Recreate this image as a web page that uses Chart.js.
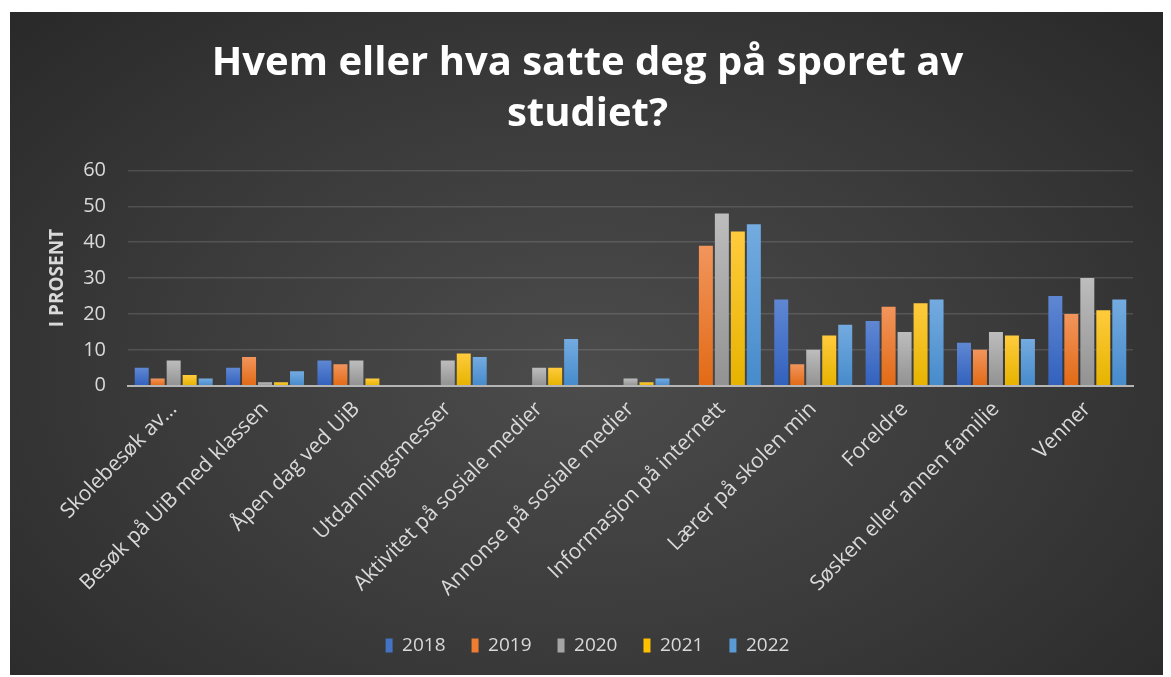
<!DOCTYPE html>
<html>
<head>
<meta charset="utf-8">
<script src="https://cdn.jsdelivr.net/npm/chart.js@4/dist/chart.umd.min.js"></script>
<style>
  html, body { margin: 0; padding: 0; background: #fff; }
  #wrap {
    position: absolute; left: 10px; top: 12px; width: 1153px; height: 663px;
    background: radial-gradient(ellipse 75% 85% at 50% 55%, #4c4c4c 0%, #3a3a3a 50%, #262626 100%);
  }
</style>
</head>
<body>
<div id="wrap"><canvas id="chart" width="1153" height="663"></canvas></div>
<script>
// Survey answers, percent per year
const categories = [
  'Skolebesøk av…', 'Besøk på UiB med klassen', 'Åpen dag ved UiB', 'Utdanningsmesser',
  'Aktivitet på sosiale medier', 'Annonse på sosiale medier', 'Informasjon på internett',
  'Lærer på skolen min', 'Foreldre', 'Søsken eller annen familie', 'Venner'
];
const years = ['2018', '2019', '2020', '2021', '2022'];
const values2018 = [5, 5, 7, 0, 0, 0, 0, 24, 18, 12, 25];
const values2019 = [2, 8, 6, 0, 0, 0, 39, 6, 22, 10, 20];
const values2020 = [7, 1, 7, 7, 5, 2, 48, 10, 15, 15, 30];
const values2021 = [3, 1, 2, 9, 5, 1, 43, 14, 23, 14, 21];
const values2022 = [2, 4, 0, 8, 13, 2, 45, 17, 24, 13, 24];
const yTicks = [0, 10, 20, 30, 40, 50, 60];

const seriesValues = [values2018, values2019, values2020, values2021, values2022];
const baseColors = ['#4472c4', '#ed7d31', '#a5a5a5', '#ffc000', '#5b9bd5'];
const topColors = ['#5f87d3', '#f2955c', '#bdbdbd', '#ffcb3d', '#74abe0'];
const bottomColors = ['#3261bd', '#e26a15', '#929292', '#e6b300', '#468bcb'];

function barGradient(i) {
  return function(ctx) {
    const chart = ctx.chart;
    const y = chart.scales && chart.scales.y;
    if (!chart.chartArea || !y || !ctx.raw) return baseColors[i];
    const top = y.getPixelForValue(ctx.raw);
    const bottom = y.getPixelForValue(0);
    const g = chart.ctx.createLinearGradient(0, top, 0, bottom);
    g.addColorStop(0, topColors[i]);
    g.addColorStop(1, bottomColors[i]);
    return g;
  };
}

const textColor = '#d9d9d9';
const font = 'Open Sans';

new Chart(document.getElementById('chart'), {
  type: 'bar',
  data: {
    labels: categories,
    datasets: years.map((yr, i) => ({
      label: yr,
      data: seriesValues[i],
      backgroundColor: barGradient(i),
      categoryPercentage: 0.875,
      barPercentage: 0.875
    }))
  },
  options: {
    responsive: false,
    animation: false,
    layout: { padding: { left: 32, right: 30, top: 0, bottom: 10 } },
    plugins: {
      title: {
        display: true,
        text: ['Hvem eller hva satte deg på sporet av', 'studiet?'],
        color: '#ffffff',
        font: { family: font, size: 40, weight: 'bold', lineHeight: 1.28 },
        padding: { top: 26, bottom: 30 }
      },
      legend: {
        position: 'bottom',
        labels: {
          color: textColor,
          font: { family: font, size: 19 },
          boxWidth: 7,
          boxHeight: 14,
          padding: 26,
          generateLabels: chart => years.map((yr, i) => ({
            text: yr, fillStyle: baseColors[i], strokeStyle: baseColors[i],
            lineWidth: 0, datasetIndex: i, fontColor: textColor
          }))
        }
      },
      tooltip: { enabled: false }
    },
    scales: {
      x: {
        grid: { display: false },
        border: { color: '#b5b5b5', width: 2 },
        afterFit: axis => { axis.height += 6; },
        ticks: {
          color: textColor,
          font: { family: font, size: 21 },
          minRotation: 45,
          maxRotation: 45,
          autoSkip: false
        }
      },
      y: {
        min: 0,
        max: 60,
        afterBuildTicks: axis => { axis.ticks = yTicks.map(v => ({ value: v })); },
        afterFit: axis => { axis.width = 86; },
        grid: { color: 'rgba(255,255,255,0.13)', lineWidth: 1.5, drawTicks: false },
        border: { display: false },
        ticks: {
          color: textColor,
          font: { family: font, size: 20 },
          padding: 22
        },
        title: {
          display: true,
          text: 'I PROSENT',
          color: textColor,
          font: { family: font, size: 19, weight: 'bold' },
          padding: { top: 4, bottom: 4 }
        }
      }
    }
  }
});
</script>
</body>
</html>
